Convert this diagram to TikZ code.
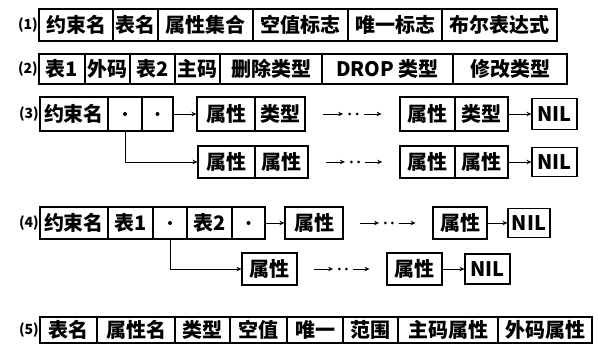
\documentclass[tikz,border=0pt]{standalone}
\usepackage{fontspec}
\setmainfont{Noto Sans CJK SC}
\usetikzlibrary{arrows.meta,calc}
\tikzset{
  cellbox/.style={draw, line width=1.1pt, inner sep=0pt, font=\fontsize{20}{22}\selectfont\bfseries},
  arr/.style={-{Stealth[length=5pt,width=4.5pt]}, line width=0.9pt},
  rowlabel/.style={anchor=east, inner sep=0pt, font=\fontsize{14}{16}\selectfont\bfseries},
  outline/.style={line width=1.6pt}
}
\newcommand\mkcell[6]{\node[cellbox, minimum width={(#3-#2)*1pt}, minimum height=#5pt] (#1) at ({(#2+#3)/2},#4) {#6};}
\newcommand\mkdot[1]{\fill (#1.center) circle (2pt);}
\newcommand\ellip[2]{%
  \draw[arr] ($(#1.east)!0.19!(#2.west)$) -- ($(#1.east)!0.40!(#2.west)$);
  \fill ($(#1.east)!0.47!(#2.west)$) circle (1.5pt);
  \fill ($(#1.east)!0.55!(#2.west)$) circle (1.5pt);
  \draw[arr] ($(#1.east)!0.62!(#2.west)$) -- ($(#1.east)!0.81!(#2.west)$);}
\begin{document}
\begin{tikzpicture}[x=1pt,y=-1pt]
\useasboundingbox (0,0) rectangle (598,344);
% row 1
\node[rowlabel] (l1) at (38,25) {(1)};
\mkcell{r1a}{39}{113}{25}{32}{约束名}
\mkcell{r1b}{113}{158}{25}{32}{表名}
\mkcell{r1c}{158}{253}{25}{32}{属性集合}
\mkcell{r1d}{253}{348}{25}{32}{空值标志}
\mkcell{r1e}{348}{442}{25}{32}{唯一标志}
\mkcell{r1f}{442}{557}{25}{32}{布尔表达式}
\draw[outline] (r1a.north west) rectangle (r1f.south east);
% row 2
\node[rowlabel] (l2) at (38,69) {(2)};
\mkcell{r2a}{39}{85}{69}{30}{表1}
\mkcell{r2b}{85}{130}{69}{30}{外码}
\mkcell{r2c}{130}{175}{69}{30}{表2}
\mkcell{r2d}{175}{220}{69}{30}{主码}
\mkcell{r2e}{220}{322}{69}{30}{删除类型}
\mkcell{r2f}{322}{453}{69}{30}{DROP 类型}
\mkcell{r2g}{453}{567}{69}{30}{修改类型}
\draw[outline] (r2a.north west) rectangle (r2g.south east);
% row 3
\node[rowlabel] (l3) at (39,114) {(3)};
\mkcell{r3a}{40}{108}{114}{33}{约束名}
\mkcell{r3b}{108}{142}{114}{33}{}
\mkcell{r3c}{142}{173}{114}{33}{}
\mkdot{r3b}\mkdot{r3c}
\draw[outline] (r3a.north west) rectangle (r3c.south east);
\mkcell{r3d}{197}{255}{114}{33}{属性}
\mkcell{r3e}{255}{305}{114}{33}{类型}
\draw[outline] (r3d.north west) rectangle (r3e.south east);
\mkcell{r3f}{400}{455}{114}{33}{属性}
\mkcell{r3g}{455}{508}{114}{33}{类型}
\draw[outline] (r3f.north west) rectangle (r3g.south east);
\mkcell{r3n}{532}{577}{114}{31}{NIL}
\draw[arr] (r3c.east) -- (r3d.west);
\ellip{r3e}{r3f}
\draw[arr] (r3g.east) -- (r3n.west);
% row 3 second line
\mkcell{r3h}{198}{255}{162}{31}{属性}
\mkcell{r3i}{255}{308}{162}{31}{属性}
\draw[outline] (r3h.north west) rectangle (r3i.south east);
\mkcell{r3j}{400}{455}{162}{31}{属性}
\mkcell{r3k}{455}{508}{162}{31}{属性}
\draw[outline] (r3j.north west) rectangle (r3k.south east);
\mkcell{r3m}{532}{577}{162}{29}{NIL}
\draw[arr] (r3b.south) |- (r3h.west);
\ellip{r3i}{r3j}
\draw[arr] (r3k.east) -- (r3m.west);
% row 4
\node[rowlabel] (l4) at (39,223) {(4)};
\mkcell{r4a}{40}{108}{223}{31}{约束名}
\mkcell{r4b}{108}{153}{223}{31}{表1}
\mkcell{r4c}{153}{187}{223}{31}{}
\mkcell{r4d}{187}{232}{223}{31}{表2}
\mkcell{r4e}{232}{265}{223}{31}{}
\mkdot{r4c}\mkdot{r4e}
\draw[outline] (r4a.north west) rectangle (r4e.south east);
\mkcell{r4f}{285}{343}{223}{31}{属性}
\draw[outline] (r4f.north west) rectangle (r4f.south east);
\mkcell{r4g}{433}{487}{223}{31}{属性}
\draw[outline] (r4g.north west) rectangle (r4g.south east);
\mkcell{r4n}{508}{550}{223}{29}{NIL}
\draw[arr] (r4e.east) -- (r4f.west);
\ellip{r4f}{r4g}
\draw[arr] (r4g.east) -- (r4n.west);
% row 4 second line
\mkcell{r4h}{242}{297}{269}{32}{属性}
\draw[outline] (r4h.north west) rectangle (r4h.south east);
\mkcell{r4i}{387}{442}{269}{32}{属性}
\draw[outline] (r4i.north west) rectangle (r4i.south east);
\mkcell{r4m}{465}{510}{269}{30}{NIL}
\draw[arr] (r4c.south) |- (r4h.west);
\ellip{r4h}{r4i}
\draw[arr] (r4i.east) -- (r4m.west);
% row 5
\node[rowlabel] (l5) at (39,330) {(5)};
\mkcell{r5a}{40}{97}{330}{26}{表名}
\mkcell{r5b}{97}{175}{330}{26}{属性名}
\mkcell{r5c}{175}{230}{330}{26}{类型}
\mkcell{r5d}{230}{287}{330}{26}{空值}
\mkcell{r5e}{287}{343}{330}{26}{唯一}
\mkcell{r5f}{343}{398}{330}{26}{范围}
\mkcell{r5g}{398}{498}{330}{26}{主码属性}
\mkcell{r5h}{498}{592}{330}{26}{外码属性}
\draw[outline] (r5a.north west) rectangle (r5h.south east);
\end{tikzpicture}
\end{document}
